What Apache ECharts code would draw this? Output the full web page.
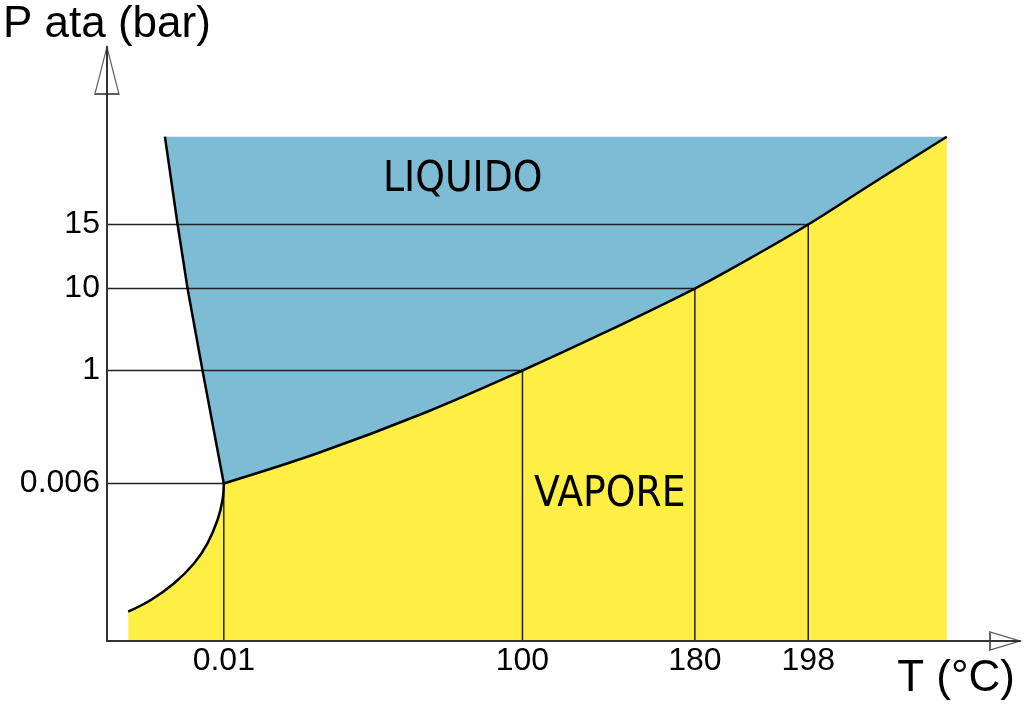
<!DOCTYPE html>
<html>
<head>
<meta charset="utf-8">
<script src="https://cdn.jsdelivr.net/npm/echarts@6/dist/echarts.min.js"></script>
<style>html,body{margin:0;padding:0;background:#fff}#c{width:1024px;height:708px}</style>
</head>
<body>
<div id="c"></div>
<script>
// Tick labels (schematic, non-linear axes) and their positions on the 0-100 schematic axis
const tempLabels = ['0.01', '100', '180', '198'];
const tempPos = [12.80, 45.51, 64.39, 76.81];
const pressLabels = ['0.006', '1', '10', '15'];
const pressPos = [26.52, 45.54, 59.34, 70.12];

// Liquid-vapour (vaporisation) curve
const vaporX = [12.80, 23.05, 35.09, 45.51, 53.94, 64.39, 70.10, 76.81, 83.23, 91.98];
const vaporY = [26.52, 31.60, 38.60, 45.54, 51.52, 59.34, 64.14, 70.12, 76.43, 84.90];
// Solid-liquid (fusion) curve, from triple point upward
const fusionX = [12.80, 10.47, 8.83, 7.74, 6.35];
const fusionY = [26.52, 45.54, 59.34, 70.12, 84.90];
// Solid-vapour (sublimation) curve, from low end up to triple point
const sublX = [2.33, 4.81, 7.36, 9.55, 11.01, 12.11, 12.66, 12.80];
const sublY = [4.93, 6.90, 9.71, 13.08, 16.45, 20.37, 23.74, 26.52];

const zip = (xs, ys) => xs.map((x, i) => [x, ys[i]]);
const vapor = zip(vaporX, vaporY);
const fusion = zip(fusionX, fusionY);
const subl = zip(sublX, sublY);

// liquid polygon: fusion line up, then back along (slightly under) the vapour curve; the vapour fill covers the overlap
const n = vapor.length;
const liquidPoly = fusion.concat(vapor.slice().reverse().map((p, i) => (i === 0 || i === n - 1) ? p : [p[0], p[1] - 1]));

const SM = 0.35;
function lineSeries(data, width, color, z, smooth, area) {
  const s = { type: 'line', data: data, showSymbol: false, symbol: 'none', silent: true, z: z, smooth: smooth || false,
           lineStyle: { color: color, width: width }, clip: false, animation: false };
  if (area) { s.areaStyle = { color: area, opacity: 1, origin: 'start' }; s.lineStyle.opacity = 0; }
  return s;
}

const series = [
  {
    type: 'custom', coordinateSystem: 'cartesian2d', silent: true, z: 1, clip: false, data: liquidPoly,
    renderItem: function (params, api) {
      if (params.dataIndex !== 0) return null;
      return { type: 'polygon', shape: { points: liquidPoly.map(p => api.coord(p)) }, style: { fill: '#7DBCD4' } };
    }
  },
  lineSeries(subl, 0, '#FFEF45', 1.2, SM, '#FFEF45'),
  lineSeries(vapor, 0, '#FFEF45', 1.2, SM, '#FFEF45')
];
tempPos.forEach((xp, i) => {
  series.push(lineSeries([[0, pressPos[i]], [xp, pressPos[i]]], 1.5, '#222', 3));
  series.push(lineSeries([[xp, 0], [xp, pressPos[i]]], 1.5, '#222', 3));
});
series.push(lineSeries(subl, 2.5, '#000', 4, SM));
series.push(lineSeries(vapor, 2.5, '#000', 4, SM));
series.push(lineSeries(fusion, 2.5, '#000', 4, false));
// axis arrows (hollow)
series.push({ type: 'scatter', silent: true, clip: false, z: 6, data: [[0, 96.04]], symbol: 'triangle',
  symbolSize: [24, 47], itemStyle: { color: 'rgba(255,255,255,0)', borderColor: '#333', borderWidth: 1.5 } });
series.push({ type: 'scatter', silent: true, clip: false, z: 6, data: [[98.36, 0]], symbol: 'triangle',
  symbolSize: [18, 30], symbolRotate: -90, itemStyle: { color: 'rgba(255,255,255,0)', borderColor: '#333', borderWidth: 1.5 } });

const fmt = (pos, labels) => v => { const i = pos.findIndex(p => Math.abs(p - v) < 1e-6); return i >= 0 ? labels[i] : ''; };
const font = 'Liberation Sans, Arial, sans-serif';
const regionFont = '"DejaVu Sans Condensed", "Liberation Sans Narrow", sans-serif';

const chart = echarts.init(document.getElementById('c'), null, { renderer: 'canvas' });
chart.setOption({
  animation: false,
  backgroundColor: '#fff',
  title: [
    { text: 'LIQUIDO', left: 378, top: 154, textStyle: { fontFamily: regionFont, fontSize: 42, fontWeight: 'normal', color: '#000', lineHeight: 42 } },
    { text: 'VAPORE', left: 529, top: 469, textStyle: { fontFamily: regionFont, fontSize: 42, fontWeight: 'normal', color: '#000', lineHeight: 42 } }
  ],
  grid: { left: 106, top: 47, width: 914, height: 594, containLabel: false },
  xAxis: {
    type: 'value', min: 0, max: 100, z: 5,
    name: 'T (°C)', nameLocation: 'end', nameGap: -5,
    nameTextStyle: { fontFamily: font, fontSize: 44, color: '#000', align: 'right', verticalAlign: 'top', lineHeight: 44, padding: [16, 0, 0, 0] },
    axisLine: { show: true, onZero: false, lineStyle: { color: '#333', width: 2 } },
    axisTick: { show: false }, splitLine: { show: false },
    axisLabel: { customValues: tempPos, formatter: fmt(tempPos, tempLabels), fontFamily: font, fontSize: 32, color: '#000', margin: 4, lineHeight: 32 }
  },
  yAxis: {
    type: 'value', min: 0, max: 100, z: 5,
    name: 'P ata (bar)', nameLocation: 'end', nameGap: 0,
    nameTextStyle: { fontFamily: font, fontSize: 44, color: '#000', align: 'center', verticalAlign: 'bottom', lineHeight: 44 },
    axisLine: { show: true, onZero: false, lineStyle: { color: '#333', width: 2 } },
    axisTick: { show: false }, splitLine: { show: false },
    axisLabel: { customValues: pressPos, formatter: fmt(pressPos, pressLabels), fontFamily: font, fontSize: 32, color: '#000', margin: 7 }
  },
  series: series
});
</script>
</body>
</html>
